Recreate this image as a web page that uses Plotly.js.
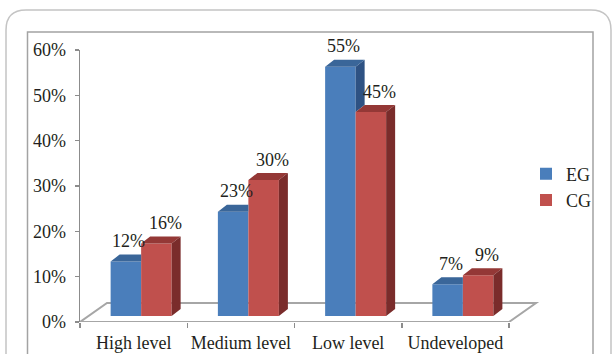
<!DOCTYPE html>
<html>
<head>
<meta charset="utf-8">
<script src="https://cdn.plot.ly/plotly-3.0.1.min.js"></script>
<style>
  html, body { margin: 0; padding: 0; background: #ffffff; }
  #chart { width: 612px; height: 354px; }
</style>
</head>
<body>
<div id="chart"></div>
<script>
// ---- data ----
const categories = ['High level', 'Medium level', 'Low level', 'Undeveloped'];
const egValues = [0.12, 0.23, 0.55, 0.07];
const cgValues = [0.16, 0.30, 0.45, 0.09];
const seriesNames = ['EG', 'CG'];
const yTickVals = [0, 0.1, 0.2, 0.3, 0.4, 0.5, 0.6];

// ---- geometry / style ----
const W = 612, H = 354;
const plotL = 80, plotR = 592, plotT = 50, plotB = 322;
const pxPerX = 107.25;                 // pixels per category unit
const pxPerY = (plotB - plotT) / 0.6;  // pixels per value unit
const xMin = -0.5, xMax = xMin + (plotR - plotL) / pxPerX;

const barW = 30.5 / pxPerX;
const shift = 7.5 / pxPerX;
const dx = 9 / pxPerX, dy = 7 / pxPerY;
const base = 6 / pxPerY;

const col = {
  egFront: '#4a7ebb', egTop: '#3a6699', egSide: '#2e5283',
  cgFront: '#c0504d', cgTop: '#943836', cgSide: '#7a2c2b'
};
const FONT = 'Liberation Serif, Times New Roman, serif';
const FS = 18;
const TXT = '#231f20';

const idx = categories.map((_, i) => i);
const egCenters = idx.map(i => i + shift - barW / 2);
const cgCenters = idx.map(i => i + shift + barW / 2);

function poly(list) { // list of polygons -> x,y arrays with null separators
  const xs = [], ys = [];
  list.forEach(p => { if (!p) return; p.forEach(pt => { xs.push(pt[0]); ys.push(pt[1]); }); xs.push(p[0][0]); ys.push(p[0][1]); xs.push(null); ys.push(null); });
  return { x: xs, y: ys };
}

const egTopPolys = [], egSidePolys = [], cgTopPolys = [], cgSidePolys = [];
idx.forEach(i => {
  const x0 = i + shift - barW, x1 = i + shift, x2 = i + shift + barW;
  const tE = base + egValues[i], tC = base + cgValues[i];
  if (tC > tE) {
    egTopPolys.push([[x0, tE], [x1, tE], [x1, tE + dy], [x0 + dx, tE + dy]]);
  } else {
    egTopPolys.push([[x0, tE], [x1, tE], [x1 + dx, tE + dy], [x0 + dx, tE + dy]]);
    egSidePolys.push([[x1, tE], [x1 + dx, tE + dy], [x1 + dx, tC + dy], [x1, tC]]);
  }
  cgTopPolys.push([[x1, tC], [x2, tC], [x2 + dx, tC + dy], [x1 + dx, tC + dy]]);
  cgSidePolys.push([[x2, tC], [x2 + dx, tC + dy], [x2 + dx, base + dy], [x2, base]]);
});

function face(p, color) {
  const d = poly(p);
  return { type: 'scatter', mode: 'lines', x: d.x, y: d.y, fill: 'toself', fillcolor: color,
           line: { width: 0, color: color }, hoverinfo: 'skip', showlegend: false };
}

const traces = [
  { type: 'bar', name: seriesNames[0], x: egCenters, y: egValues, base: egValues.map(() => base),
    width: barW, marker: { color: col.egFront, line: { width: 0 } }, hoverinfo: 'skip' },
  { type: 'bar', name: seriesNames[1], x: cgCenters, y: cgValues, base: cgValues.map(() => base),
    width: barW, marker: { color: col.cgFront, line: { width: 0 } }, hoverinfo: 'skip' },
  face(egSidePolys, col.egSide),
  face(egTopPolys, col.egTop),
  face(cgTopPolys, col.cgTop),
  face(cgSidePolys, col.cgSide),
  { type: 'scatter', x: [0], y: [0], xaxis: 'x2', mode: 'markers', marker: { opacity: 0 }, showlegend: false, hoverinfo: 'skip' }
];

const annotations = [];
idx.forEach(i => {
  annotations.push({ x: egCenters[i] + 3 / pxPerX, y: base + egValues[i], xref: 'x', yref: 'y',
    text: Math.round(egValues[i] * 100) + '%', showarrow: false, yshift: 20.5, yanchor: 'middle',
    font: { family: FONT, size: FS, color: TXT } });
  annotations.push({ x: cgCenters[i] + 9 / pxPerX, y: base + cgValues[i], xref: 'x', yref: 'y',
    text: Math.round(cgValues[i] * 100) + '%', showarrow: false, yshift: 20.5, yanchor: 'middle',
    font: { family: FONT, size: FS, color: TXT } });
});

// paper helpers
const px = v => (v - plotL) / (plotR - plotL);
const py = v => (plotB - v) / (plotB - plotT);

const floorDx = 27 / pxPerX, floorDy = 19 / pxPerY;
const shapes = [
  // outer rounded card
  { type: 'path', xref: 'paper', yref: 'paper', layer: 'below',
    path: (function () {
      const l = 6, t = 10, r = 611, b = 380, rad = 20;
      return 'M' + px(l) + ',' + py(b) + ' L' + px(l) + ',' + py(t + rad) +
        ' Q' + px(l) + ',' + py(t) + ' ' + px(l + rad) + ',' + py(t) +
        ' L' + px(r - rad) + ',' + py(t) +
        ' Q' + px(r) + ',' + py(t) + ' ' + px(r) + ',' + py(t + rad) +
        ' L' + px(r) + ',' + py(b);
    })(),
    line: { color: '#c4c4c4', width: 1.5 } },
  // inner frame
  { type: 'rect', xref: 'paper', yref: 'paper', layer: 'below',
    x0: px(27.5), x1: px(593), y0: py(362), y1: py(32),
    line: { color: '#a3a3a3', width: 1.5 } },
  // floor
  { type: 'path', xref: 'x', yref: 'y', layer: 'below',
    path: 'M-0.5,0 L3.5,0 L' + (3.5 + floorDx) + ',' + floorDy + ' L' + (-0.5 + floorDx) + ',' + floorDy + ' Z',
    line: { color: '#a6a6a6', width: 2 } }
];

const layout = {
  width: W, height: H,
  margin: { l: plotL, r: W - plotR, t: plotT, b: H - plotB, pad: 0 },
  paper_bgcolor: 'rgba(0,0,0,0)', plot_bgcolor: 'rgba(0,0,0,0)',
  font: { family: FONT, size: FS, color: TXT },
  showlegend: true,
  barmode: 'overlay',
  xaxis: { range: [xMin, xMax], tickvals: idx, ticktext: categories, ticks: 'outside', ticklen: 4,
    tickcolor: 'rgba(0,0,0,0)', showline: false, showgrid: false, zeroline: false,
    tickfont: { family: FONT, size: FS, color: TXT }, fixedrange: true },
  xaxis2: { overlaying: 'x', anchor: 'y', side: 'bottom', range: [xMin, xMax],
    tickvals: [-0.5, 0.5, 1.5, 2.5, 3.5], ticks: 'outside', ticklen: 5, tickwidth: 1.5, tickcolor: '#8c8c8c',
    showticklabels: false, showline: false, showgrid: false, zeroline: false },
  yaxis: { range: [0, 0.6], tickvals: yTickVals, tickformat: '.0%', ticks: 'outside', ticklen: 4,
    tickcolor: '#8c8c8c', tickwidth: 1.5, showline: true, linecolor: '#8c8c8c', linewidth: 1.5,
    showgrid: false, zeroline: false, ticklabelstandoff: 5,
    tickfont: { family: FONT, size: FS, color: TXT } },
  legend: { x: px(526), xanchor: 'left', y: py(187), yanchor: 'middle', bgcolor: 'rgba(0,0,0,0)',
    font: { family: FONT, size: FS, color: TXT }, tracegroupgap: 6, traceorder: 'normal' },
  annotations: annotations,
  shapes: shapes
};

Plotly.newPlot('chart', traces, layout, { displayModeBar: false, staticPlot: true });
</script>
</body>
</html>
